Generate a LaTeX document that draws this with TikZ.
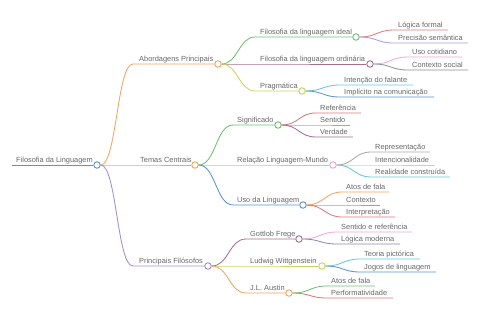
\documentclass[tikz,border=0pt]{standalone}
\usepackage{fontspec}
\setmainfont{Liberation Sans}
\definecolor{cBlue}{HTML}{5A93D0}
\definecolor{cOrange}{HTML}{F4A261}
\definecolor{cGreen}{HTML}{6CC070}
\definecolor{cPurple}{HTML}{A78BCF}
\definecolor{cMauve}{HTML}{A3708C}
\definecolor{cOlive}{HTML}{C8D45A}
\definecolor{cRed}{HTML}{E07878}
\definecolor{cLav}{HTML}{A89BE0}
\definecolor{cPink}{HTML}{EBA8D8}
\definecolor{cGrayBlue}{HTML}{8C8CA8}
\definecolor{cCyan}{HTML}{62C8DE}
\definecolor{cGray}{HTML}{A8A8A8}
\definecolor{cYG}{HTML}{D3DB72}
\definecolor{txtgray}{HTML}{666666}
\begin{document}
\begin{tikzpicture}[x=1pt,y=-1pt,
  lbl/.style={anchor=base west, inner sep=0pt, font=\fontsize{7.4}{8}\selectfont, text=txtgray},
  knot/.style={circle, draw=#1, fill=white, line width=0.9pt, minimum size=6.5pt, inner sep=0pt},
  lnk/.style={draw=#1, line width=0.85pt}]
\useasboundingbox (0,0) rectangle (480,320);

% ---------- root
\coordinate (Rs) at (12,165);
\node[lbl] (Rt) at (16,162.5) {Filosofia da Linguagem};
\node[knot=cBlue] (R) at (97,165) {};

% ---------- level 1
\coordinate (As) at (133,64);
\node[lbl] (At) at (139,61.5) {Abordagens Principais};
\node[knot=cOrange] (A) at (218,64) {};
\coordinate (Ts) at (133,165);
\node[lbl] (Tt) at (140,162.5) {Temas Centrais};
\node[knot=cOrange] (T) at (195,165) {};
\coordinate (Ps) at (133,266);
\node[lbl] (Pt) at (139,263.5) {Principais Filósofos};
\node[knot=cPurple] (P) at (208,266) {};

% ---------- level 2 (A)
\coordinate (A1s) at (255,37);
\node[lbl] (A1t) at (260,34.5) {Filosofia da linguagem ideal};
\node[knot=cGreen] (A1) at (356,37) {};
\coordinate (A2s) at (255,64);
\node[lbl] (A2t) at (260,61.5) {Filosofia da linguagem ordinária};
\node[knot=cMauve] (A2) at (370,64) {};
\coordinate (A3s) at (255,91);
\node[lbl] (A3t) at (260,88.5) {Pragmática};
\node[knot=cOlive] (A3) at (302,91) {};

% ---------- level 2 (T)
\coordinate (T1s) at (233,125);
\node[lbl] (T1t) at (237,122.5) {Significado};
\node[knot=cGreen] (T1) at (278,125) {};
\coordinate (T2s) at (233,165);
\node[lbl] (T2t) at (237,162.5) {Relação Linguagem-Mundo};
\node[knot=cPink] (T2) at (333,165) {};
\coordinate (T3s) at (233,205);
\node[lbl] (T3t) at (237,202.5) {Uso da Linguagem};
\node[knot=cBlue] (T3) at (303,205) {};

% ---------- level 2 (P)
\coordinate (P1s) at (246,239);
\node[lbl] (P1t) at (250,236.5) {Gottlob Frege};
\node[knot=cMauve] (P1) at (299,239) {};
\coordinate (P2s) at (246,266);
\node[lbl] (P2t) at (250,263.5) {Ludwig Wittgenstein};
\node[knot=cOlive] (P2) at (322,266) {};
\coordinate (P3s) at (246,293);
\node[lbl] (P3t) at (250,290.5) {J.L. Austin};
\node[knot=cOrange] (P3) at (289,293) {};

% ---------- leaves A1
\coordinate (L1s) at (394,30); \node[lbl] (L1t) at (398,27.5) {Lógica formal}; \coordinate (L1e) at (448,30);
\coordinate (L2s) at (394,43); \node[lbl] (L2t) at (398,40.5) {Precisão semântica}; \coordinate (L2e) at (468,43);
% leaves A2
\coordinate (L3s) at (408,57); \node[lbl] (L3t) at (412,54.5) {Uso cotidiano}; \coordinate (L3e) at (462,57);
\coordinate (L4s) at (408,70); \node[lbl] (L4t) at (412,67.5) {Contexto social}; \coordinate (L4e) at (468,70);
% leaves A3
\coordinate (L5s) at (340,85); \node[lbl] (L5t) at (344,82.5) {Intenção do falante}; \coordinate (L5e) at (413,85);
\coordinate (L6s) at (340,97); \node[lbl] (L6t) at (344,94.5) {Implícito na comunicação}; \coordinate (L6e) at (434,97);
% leaves T1
\coordinate (M1s) at (316,113); \node[lbl] (M1t) at (320,110.5) {Referência}; \coordinate (M1e) at (361,113);
\coordinate (M2s) at (316,125); \node[lbl] (M2t) at (320,122.5) {Sentido}; \coordinate (M2e) at (350,125);
\coordinate (M3s) at (316,137); \node[lbl] (M3t) at (320,134.5) {Verdade}; \coordinate (M3e) at (353,137);
% leaves T2
\coordinate (M4s) at (371,152); \node[lbl] (M4t) at (375,149.5) {Representação}; \coordinate (M4e) at (430,152);
\coordinate (M5s) at (371,165); \node[lbl] (M5t) at (375,162.5) {Intencionalidade}; \coordinate (M5e) at (435,165);
\coordinate (M6s) at (371,177); \node[lbl] (M6t) at (375,174.5) {Realidade construída}; \coordinate (M6e) at (450,177);
% leaves T3
\coordinate (M7s) at (342,192); \node[lbl] (M7t) at (346,189.5) {Atos de fala}; \coordinate (M7e) at (389,192);
\coordinate (M8s) at (342,205); \node[lbl] (M8t) at (346,202.5) {Contexto}; \coordinate (M8e) at (380,205);
\coordinate (M9s) at (342,217); \node[lbl] (M9t) at (346,214.5) {Interpretação}; \coordinate (M9e) at (395,217);
% leaves P1
\coordinate (N1s) at (337,232); \node[lbl] (N1t) at (341,229.5) {Sentido e referência}; \coordinate (N1e) at (412,232);
\coordinate (N2s) at (337,244); \node[lbl] (N2t) at (341,241.5) {Lógica moderna}; \coordinate (N2e) at (400,244);
% leaves P2
\coordinate (N3s) at (360,259); \node[lbl] (N3t) at (364,256.5) {Teoria pictórica}; \coordinate (N3e) at (420,259);
\coordinate (N4s) at (360,272); \node[lbl] (N4t) at (364,269.5) {Jogos de linguagem}; \coordinate (N4e) at (436,272);
% leaves P3
\coordinate (N5s) at (327,286); \node[lbl] (N5t) at (331,283.5) {Atos de fala}; \coordinate (N5e) at (375,286);
\coordinate (N6s) at (327,298); \node[lbl] (N6t) at (331,295.5) {Performatividade}; \coordinate (N6e) at (393,298);

% ---------- connectors
\draw[lnk=cBlue] (Rs) -- (R.west);
\draw[lnk=cOrange] (R.east) .. controls +(16,0) and +(-16,0) .. (As) -- (A.west);
\draw[lnk=cOrange] (R.east) -- (Ts) -- (T.west);
\draw[lnk=cPurple] (R.east) .. controls +(16,0) and +(-16,0) .. (Ps) -- (P.west);

\draw[lnk=cGreen] (A.east) .. controls +(16,0) and +(-16,0) .. (A1s) -- (A1.west);
\draw[lnk=cMauve] (A.east) -- (A2s) -- (A2.west);
\draw[lnk=cOlive] (A.east) .. controls +(16,0) and +(-16,0) .. (A3s) -- (A3.west);

\draw[lnk=cGreen] (T.east) .. controls +(17,0) and +(-17,0) .. (T1s) -- (T1.west);
\draw[lnk=cPink] (T.east) -- (T2s) -- (T2.west);
\draw[lnk=cBlue] (T.east) .. controls +(17,0) and +(-17,0) .. (T3s) -- (T3.west);

\draw[lnk=cMauve] (P.east) .. controls +(17,0) and +(-17,0) .. (P1s) -- (P1.west);
\draw[lnk=cOlive] (P.east) -- (P2s) -- (P2.west);
\draw[lnk=cOrange] (P.east) .. controls +(17,0) and +(-17,0) .. (P3s) -- (P3.west);

\draw[lnk=cRed] (A1.east) .. controls +(17,0) and +(-17,0) .. (L1s) -- (L1e);
\draw[lnk=cLav] (A1.east) .. controls +(17,0) and +(-17,0) .. (L2s) -- (L2e);
\draw[lnk=cPink] (A2.east) .. controls +(17,0) and +(-17,0) .. (L3s) -- (L3e);
\draw[lnk=cGrayBlue] (A2.east) .. controls +(17,0) and +(-17,0) .. (L4s) -- (L4e);
\draw[lnk=cCyan] (A3.east) .. controls +(17,0) and +(-17,0) .. (L5s) -- (L5e);
\draw[lnk=cBlue] (A3.east) .. controls +(17,0) and +(-17,0) .. (L6s) -- (L6e);

\draw[lnk=cRed] (T1.east) .. controls +(17,0) and +(-17,0) .. (M1s) -- (M1e);
\draw[lnk=cLav] (T1.east) -- (M2s) -- (M2e);
\draw[lnk=cMauve] (T1.east) .. controls +(17,0) and +(-17,0) .. (M3s) -- (M3e);
\draw[lnk=cGray] (T2.east) .. controls +(17,0) and +(-17,0) .. (M4s) -- (M4e);
\draw[lnk=cYG] (T2.east) -- (M5s) -- (M5e);
\draw[lnk=cCyan] (T2.east) .. controls +(17,0) and +(-17,0) .. (M6s) -- (M6e);
\draw[lnk=cOrange] (T3.east) .. controls +(17,0) and +(-17,0) .. (M7s) -- (M7e);
\draw[lnk=cGreen] (T3.east) -- (M8s) -- (M8e);
\draw[lnk=cRed] (T3.east) .. controls +(17,0) and +(-17,0) .. (M9s) -- (M9e);

\draw[lnk=cPink] (P1.east) .. controls +(17,0) and +(-17,0) .. (N1s) -- (N1e);
\draw[lnk=cGrayBlue] (P1.east) .. controls +(17,0) and +(-17,0) .. (N2s) -- (N2e);
\draw[lnk=cCyan] (P2.east) .. controls +(17,0) and +(-17,0) .. (N3s) -- (N3e);
\draw[lnk=cBlue] (P2.east) .. controls +(17,0) and +(-17,0) .. (N4s) -- (N4e);
\draw[lnk=cGreen] (P3.east) .. controls +(17,0) and +(-17,0) .. (N5s) -- (N5e);
\draw[lnk=cRed] (P3.east) .. controls +(17,0) and +(-17,0) .. (N6s) -- (N6e);
\end{tikzpicture}
\end{document}
